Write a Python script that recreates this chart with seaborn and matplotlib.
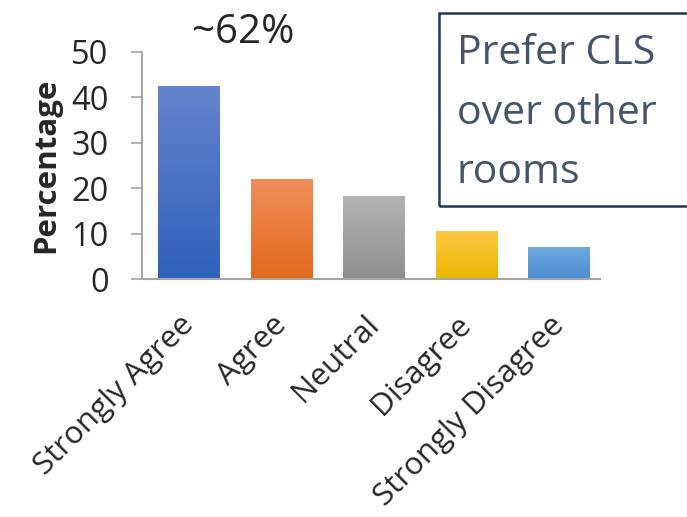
import numpy as np
import pandas as pd
import matplotlib
matplotlib.use("Agg")
import matplotlib.pyplot as plt
from matplotlib.patches import Rectangle
from matplotlib.colors import LinearSegmentedColormap
import seaborn as sns

categories = ["Strongly Agree", "Agree", "Neutral", "Disagree", "Strongly Disagree"]
percentages = [42.5, 22.1, 18.2, 10.5, 7.0]
yticks = [0, 10, 20, 30, 40, 50]
top_colors = ["#6584CD", "#F08E5A", "#B3B3B3", "#FFC846", "#70A8DE"]
bottom_colors = ["#2F61BB", "#E3691C", "#8F8F8F", "#EAB700", "#4A8ED2"]
annotation = "~62%"
box_text = "Prefer CLS\nover other\nrooms"

sns.set_style("white")
plt.rcParams['font.family'] = ['Open Sans', 'DejaVu Sans']

df = pd.DataFrame({"cat": categories, "pct": percentages})

fig = plt.figure(figsize=(6.87, 5.17), dpi=100)
ax = fig.add_axes([142/687, 1-279/517, (600-142)/687, (279-52)/517])

sns.barplot(data=df, x="cat", y="pct", hue="cat", palette=bottom_colors,
            width=0.67, legend=False, ax=ax, saturation=1)

# gradient fills
for patch, ct, cb in zip(ax.patches, top_colors, bottom_colors):
    x0, y0 = patch.get_x(), patch.get_y()
    w, h = patch.get_width(), patch.get_height()
    cmap = LinearSegmentedColormap.from_list("g", [cb, ct])
    grad = np.linspace(0, 1, 256).reshape(-1, 1)
    im = ax.imshow(grad, cmap=cmap, aspect="auto", origin="lower",
                   extent=[x0, x0 + w, y0, y0 + h], zorder=patch.get_zorder() + 0.1)
    im.set_clip_path(patch)
    patch.set_edgecolor("none")

ax.set_xlim(-0.51, 4.44)
ax.set_ylim(0, 50)
ax.set_yticks(yticks)
ax.set_yticklabels([str(v) for v in yticks], fontsize=23.5)
ax.set_xticks(range(len(categories)))
ax.set_xticklabels(categories, rotation=45, ha="right", va="center",
                   rotation_mode="anchor", fontsize=22.5)
ax.tick_params(axis="y", length=8, width=1.2, color="#A6A6A6", pad=16, direction="out", left=True)
ax.tick_params(axis="x", length=0, pad=30)
ax.set_xlabel("")
ax.set_ylabel("Percentage", fontsize=22.5, fontweight="bold", labelpad=7)

for s in ["top", "right"]:
    ax.spines[s].set_visible(False)
for s in ["left", "bottom"]:
    ax.spines[s].set_color("#A6A6A6")
    ax.spines[s].set_linewidth(1.5)

fig.text(243/687, 1-33/517, annotation, ha="center", va="center", fontsize=29)

fig.patches.append(Rectangle((439/687, 1-206/517), 260/687, 193/517,
                             transform=fig.transFigure, fill=False,
                             edgecolor="#1F3864", linewidth=1.8, clip_on=False))
fig.text(457/687, 1-34/517, box_text, ha="left", va="top", fontsize=29.5,
         color="#44546A", linespacing=1.62)

fig.savefig("out.png", dpi=100)
